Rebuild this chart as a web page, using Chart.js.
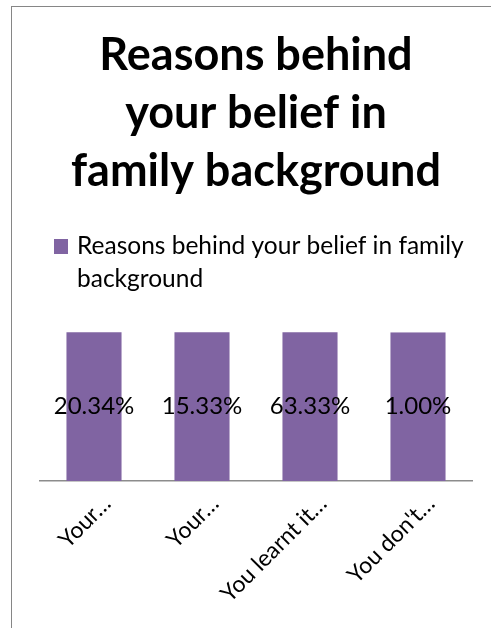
<!DOCTYPE html>
<html>
<head>
<meta charset="utf-8">
<script src="https://cdn.jsdelivr.net/npm/chart.js@4"></script>
<style>
  html, body { margin: 0; padding: 0; background: #ffffff; overflow: hidden; }
  #wrap { position: relative; width: 491px; height: 628px; }
  #frame {
    position: absolute; left: 11px; top: 6px; width: 700px; height: 800px;
    border-left: 1px solid #868686; border-top: 1px solid #868686;
    pointer-events: none;
  }
  canvas { position: absolute; left: 0; top: 0; }
</style>
</head>
<body>
<div id="wrap">
  <canvas id="chart" width="491" height="628"></canvas>
  <div id="frame"></div>
</div>
<script>
// Survey answers: why respondents believe in family background
const categories = ['Your…', 'Your…', 'You learnt it…', "You don't…"];
const seriesName = 'Reasons behind your belief in family background';
const shares = [20.34, 15.33, 63.33, 1.00];   // percent of respondents
const titleLines = ['Reasons behind', 'your belief in', 'family background'];
const axisMax = 1.00;   // value axis is capped at 1%, taller bars are cut off

const FONT = 'Lato, "Open Sans", sans-serif';
const BAR = '#8064A2';

// Wrapped legend under the title
const wrappedLegend = {
  id: 'wrappedLegend',
  afterDraw(chart) {
    const ctx = chart.ctx;
    const ds = chart.data.datasets[0];
    const x0 = 54, y0 = 239, box = 14, tx = 77;
    const maxW = chart.chartArea.right - tx;
    ctx.save();
    ctx.fillStyle = ds.backgroundColor;
    ctx.fillRect(x0, y0, box, box + 1);
    ctx.font = '24.5px ' + FONT;
    ctx.fillStyle = '#000000';
    ctx.textBaseline = 'alphabetic';
    const words = ds.label.split(' ');
    const lines = [];
    let cur = '';
    for (const w of words) {
      const t = cur ? cur + ' ' + w : w;
      if (ctx.measureText(t).width > maxW && cur) { lines.push(cur); cur = w; }
      else cur = t;
    }
    if (cur) lines.push(cur);
    lines.forEach((l, i) => ctx.fillText(l, tx, 254 + i * 33));
    ctx.restore();
  }
};

// Value labels centred in the visible part of each bar
const barValues = {
  id: 'barValues',
  afterDatasetsDraw(chart) {
    const ctx = chart.ctx;
    const meta = chart.getDatasetMeta(0);
    const area = chart.chartArea;
    ctx.save();
    ctx.font = '24px ' + FONT;
    ctx.fillStyle = '#000000';
    ctx.textAlign = 'center';
    ctx.textBaseline = 'middle';
    meta.data.forEach((bar, i) => {
      const top = Math.max(bar.y, area.top);
      const y = (top + bar.base) / 2;
      ctx.fillText(shares[i].toFixed(2) + '%', bar.x, y);
    });
    ctx.restore();
  }
};

new Chart(document.getElementById('chart'), {
  type: 'bar',
  data: {
    labels: categories,
    datasets: [{
      label: seriesName,
      data: shares,
      backgroundColor: BAR,
      borderWidth: 0,
      barPercentage: 0.51,
      categoryPercentage: 1.0
    }]
  },
  options: {
    responsive: false,
    animation: false,
    devicePixelRatio: 1,
    layout: { padding: { left: 40, right: 19, top: 0, bottom: 0 } },
    plugins: {
      legend: { display: false },
      tooltip: { enabled: false },
      title: {
        display: true,
        fullSize: false,
        text: titleLines,
        color: '#000000',
        font: { family: FONT, size: 45, weight: 'bold', lineHeight: 1.29 },
        padding: { top: 26, bottom: 132 }
      }
    },
    scales: {
      y: {
        display: false,
        min: 0,
        max: axisMax
      },
      x: {
        grid: { display: false, drawTicks: false },
        border: { display: true, color: '#8c8c8c', width: 1.5 },
        ticks: {
          color: '#000000',
          font: { family: FONT, size: 23 },
          minRotation: 45,
          maxRotation: 45,
          autoSkip: false,
          padding: 9,
          labelOffset: 13
        },
        afterFit(scale) { scale.height = 147; }
      }
    }
  },
  plugins: [barValues, wrappedLegend]
});
</script>
</body>
</html>
